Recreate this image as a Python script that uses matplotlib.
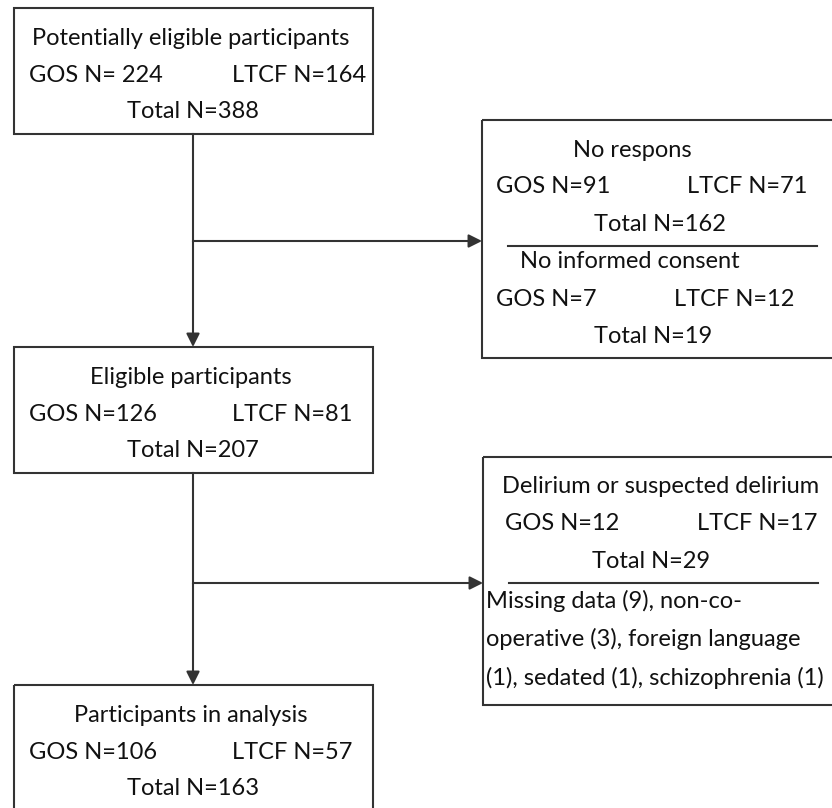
import matplotlib
matplotlib.use("Agg")
import matplotlib.pyplot as plt
from matplotlib.patches import Rectangle

# ---- data ----
stage_titles = ["Potentially eligible participants", "Eligible participants", "Participants in analysis"]
stage_gos = [224, 126, 106]
stage_ltcf = [164, 81, 57]
stage_total = [388, 207, 163]
gos_fmt = ["GOS N= {}", "GOS N={}", "GOS N={}"]

excl1_titles = ["No respons", "No informed consent"]
excl1_gos = [91, 7]
excl1_ltcf = [71, 12]
excl1_total = [162, 19]

excl2_title = "Delirium or suspected delirium"
excl2_gos = [12]
excl2_ltcf = [17]
excl2_total = [29]
excl2_notes = ["Missing data (9), non-co-",
               "operative (3), foreign language",
               "(1), sedated (1), schizophrenia (1)"]

# ---- style ----
FONT = "Lato"
FS = 17
LC = "#333333"
TC = "#111111"
LW = 1.5

fig = plt.figure(figsize=(8.32, 8.08), dpi=100)
ax = fig.add_axes([0, 0, 1, 1])
ax.set_xlim(0, 832)
ax.set_ylim(808, 0)
ax.axis("off")

def box(x0, y0, x1, y1):
    ax.add_patch(Rectangle((x0, y0), x1 - x0, y1 - y0, fill=False,
                           edgecolor=LC, lw=LW, clip_on=True))

def txt(x, y, s, ha="left"):
    ax.text(x, y, s, ha=ha, va="baseline", fontsize=FS, family=FONT, color=TC)

def arrow(x0, y0, x1, y1):
    ax.annotate("", xy=(x1, y1), xytext=(x0, y0),
                arrowprops=dict(arrowstyle="-|>", color=LC, lw=LW,
                                mutation_scale=20, shrinkA=0, shrinkB=0))

# left column boxes
tops = [8, 347, 685]
bottoms = [134, 473, 830]
for i in range(3):
    t = tops[i]
    box(14, t, 373, bottoms[i])
    txt(191, t + 37, stage_titles[i], ha="center")
    txt(29, t + 74, gos_fmt[i].format(stage_gos[i]))
    txt(232, t + 74, "LTCF N={}".format(stage_ltcf[i]))
    txt(193, t + 110, "Total N={}".format(stage_total[i]), ha="center")

# vertical connectors
ax.plot([193, 193], [134, 241], color=LC, lw=LW)
arrow(193, 241, 193, 347)
ax.plot([193, 193], [473, 583], color=LC, lw=LW)
arrow(193, 583, 193, 685)

# horizontal branches
arrow(193, 241, 482, 241)
arrow(193, 583, 483, 583)

# exclusion box 1
box(482, 120, 850, 358)
txt(632, 157, excl1_titles[0], ha="center")
txt(496, 193, "GOS N={}".format(excl1_gos[0]))
txt(687, 193, "LTCF N={}".format(excl1_ltcf[0]))
txt(660, 231, "Total N={}".format(excl1_total[0]), ha="center")
ax.plot([508, 817], [246, 246], color=LC, lw=LW)
txt(630, 268, excl1_titles[1], ha="center")
txt(496, 306, "GOS N={}".format(excl1_gos[1]))
txt(674, 306, "LTCF N={}".format(excl1_ltcf[1]))
txt(653, 343, "Total N={}".format(excl1_total[1]), ha="center")

# exclusion box 2
box(483, 457, 850, 705)
txt(661, 493, excl2_title, ha="center")
txt(505, 530, "GOS N={}".format(excl2_gos[0]))
txt(697, 530, "LTCF N={}".format(excl2_ltcf[0]))
txt(651, 568, "Total N={}".format(excl2_total[0]), ha="center")
ax.plot([509, 818], [583, 583], color=LC, lw=LW)
for j, line in enumerate(excl2_notes):
    txt(486, 608 + 38.5 * j, line)

fig.savefig("out.png", dpi=100, facecolor="white")
